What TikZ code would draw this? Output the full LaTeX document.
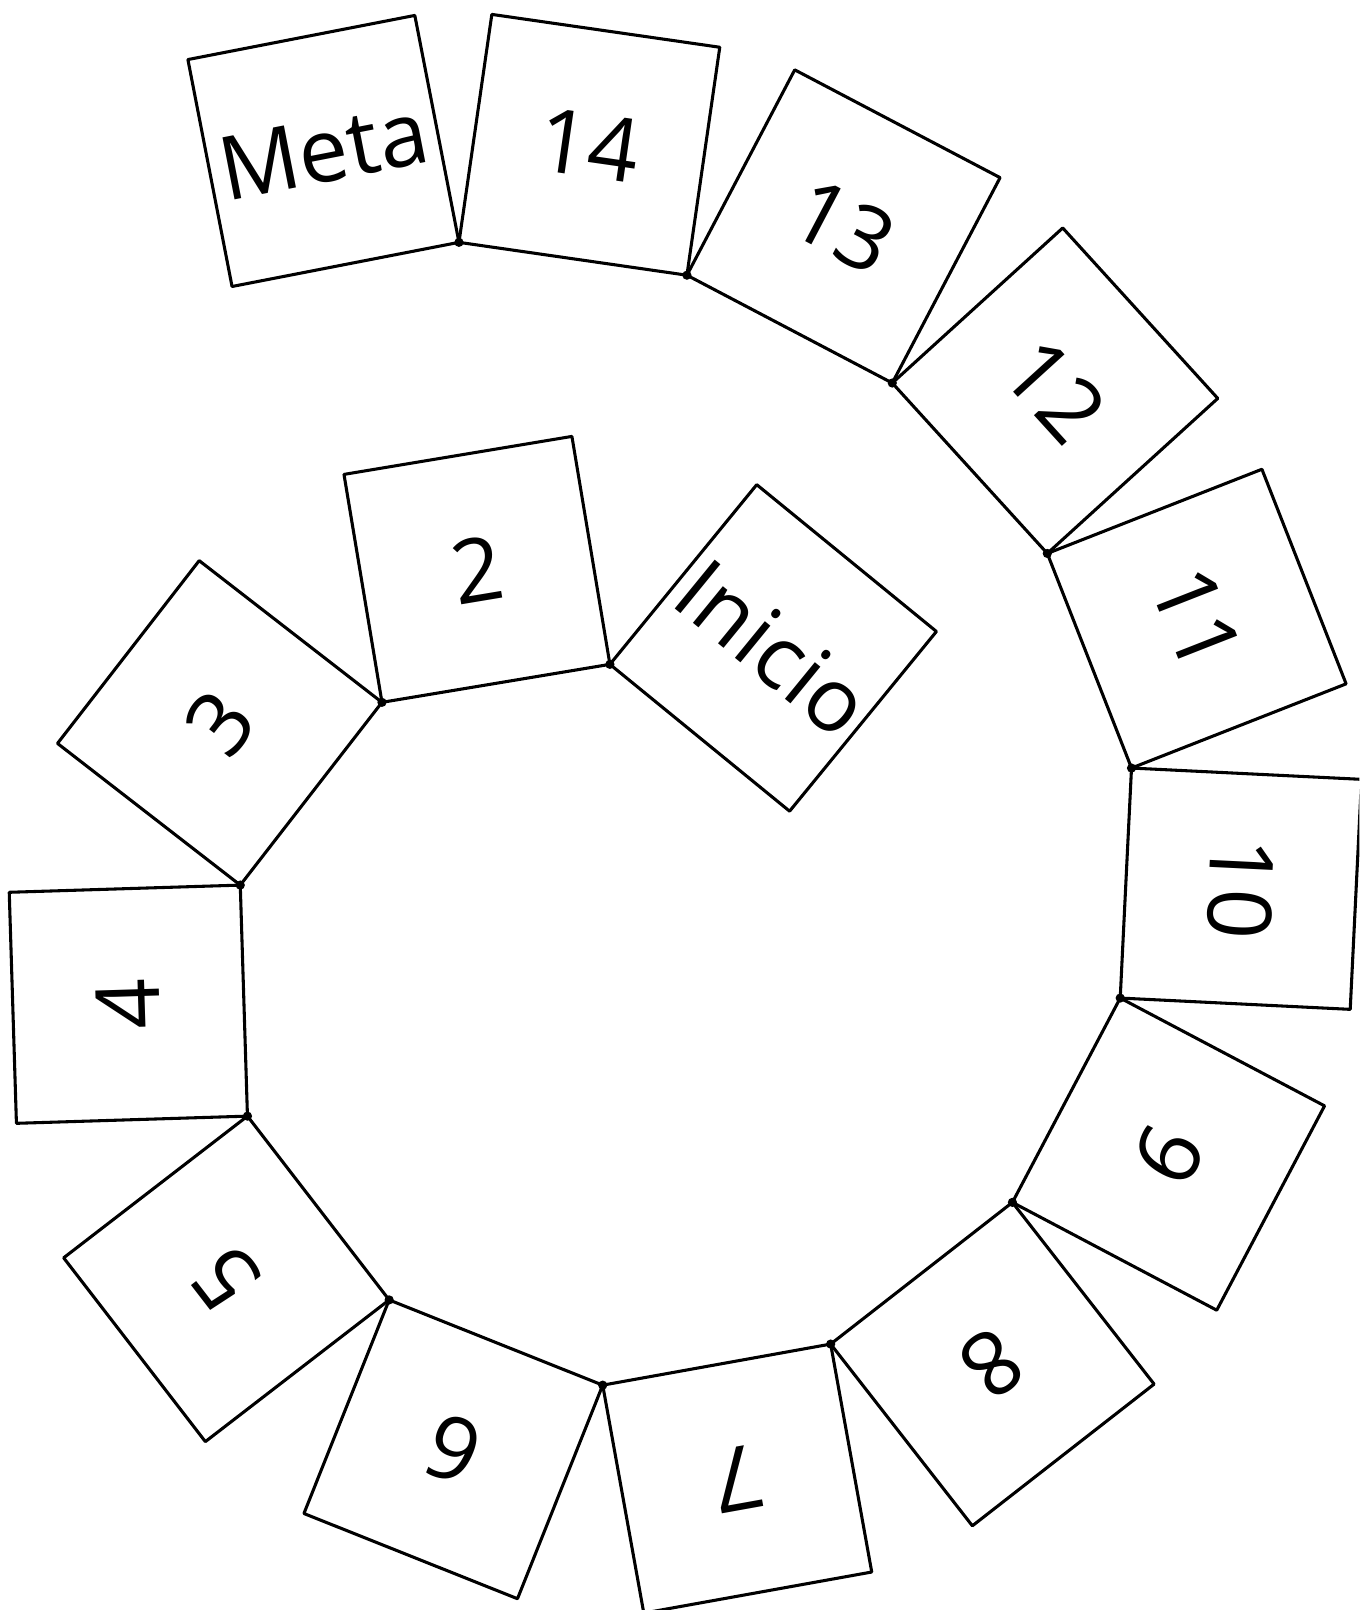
\documentclass[tikz,border=0pt]{standalone}
\usepackage{fontspec}
\setmainfont{Open Sans}
\usetikzlibrary{calc}

\begin{document}
\begin{tikzpicture}[x=0.01cm, y=-0.01cm,
    tile/.style={line width=0.85pt, line join=round},
    tilelabel/.style={font=\fontsize{24.5}{29}\selectfont, inner sep=0pt},
    joint/.style={fill=black}]
    % frame of the picture
    \useasboundingbox (0,0) rectangle (1324,1568);
    \clip (0,0) rectangle (1324,1568);

    % corners along the spiral (start -> goal)
    \coordinate (a0) at (769,790);
    \coordinate (a1) at (594,647);
    \coordinate (a2) at (372,684);
    \coordinate (a3) at (234,862);
    \coordinate (a4) at (241,1087);
    \coordinate (a5) at (379,1266);
    \coordinate (a6) at (587,1349);
    \coordinate (a7) at (809,1309);
    \coordinate (a8) at (986,1171);
    \coordinate (a9) at (1091,972);
    \coordinate (a10) at (1102,748);
    \coordinate (a11) at (1020,539);
    \coordinate (a12) at (869,373);
    \coordinate (a13) at (669,268);
    \coordinate (a14) at (447,236);
    \coordinate (a15) at (226,279);

    % squares of the board
    \foreach \i/\txt [evaluate=\i as \j using int(\i-1)] in
        {1/Inicio,2/2,3/3,4/4,5/5,6/6,7/7,8/8,9/9,10/10,11/11,12/12,13/13,14/14,15/Meta} {
        \coordinate (b\i) at ($(a\j)!1!-90:(a\i)$);
        \coordinate (c\i) at ($(a\i)!1!90:(a\j)$);
        \draw[tile] (a\i) -- (a\j) -- (b\i) -- (c\i) -- cycle;
        \path let \p1=($(a\j)-(a\i)$), \n1={atan2(\y1,\x1)} in
            ($(a\i)!0.5!(b\i)$) node[tilelabel, rotate=\n1] (t\i) {\txt};
    }

    % joints
    \foreach \i in {1,...,14}
        \fill[joint] (a\i) circle (4.5);
\end{tikzpicture}
\end{document}
